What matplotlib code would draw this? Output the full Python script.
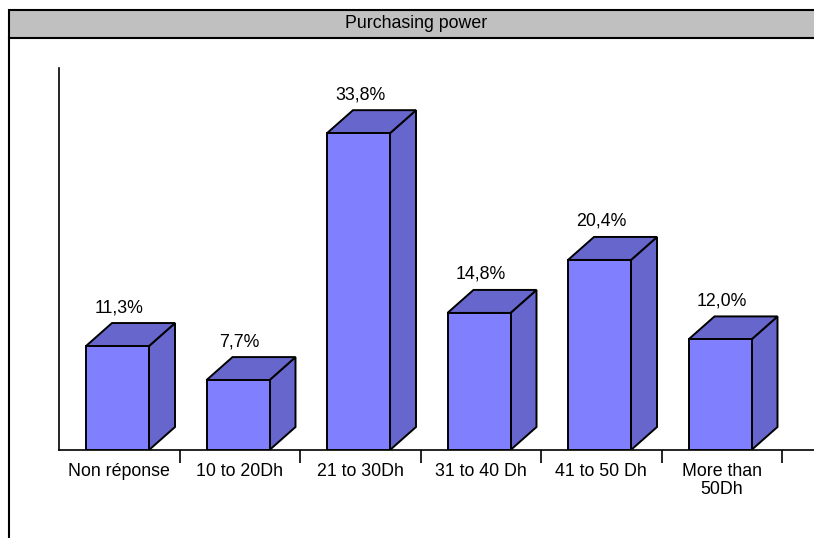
import matplotlib
matplotlib.use("Agg")
import matplotlib.pyplot as plt
from matplotlib.patches import Polygon, Rectangle
from matplotlib.lines import Line2D

# data
categories = ["Non réponse", "10 to 20Dh", "21 to 30Dh", "31 to 40 Dh",
              "41 to 50 Dh", "More than\n50Dh"]
values = [11.3, 7.7, 33.8, 14.8, 20.4, 12.0]
labels = ["11,3%", "7,7%", "33,8%", "14,8%", "20,4%", "12,0%"]
title = "Purchasing power"

plt.rcParams['font.family'] = ['Liberation Sans', 'DejaVu Sans']

W, H = 814, 538
fig = plt.figure(figsize=(W / 100, H / 100), dpi=100)

# axes placed in pixels: y axis at x=59, floor at y=450, top at y=68
ax = fig.add_axes([59 / W, (H - 450) / H, (W - 59) / W, (450 - 68) / H])
px_per_cat = 120.5
px_per_pct = 9.46
y0 = 0.31
ax.set_xlim(0, (W - 59) / px_per_cat)
ax.set_ylim(y0, y0 + (450 - 68) / px_per_pct)

front_c = "#8080FF"
side_c = "#6666CC"
dx = 26 / px_per_cat
dy = 23 / px_per_pct
x_off = 27 / px_per_cat
bw = 63 / px_per_cat

for i, v in enumerate(values):
    x0 = i + x_off
    x1 = x0 + bw
    side = Polygon([(x1, y0), (x1 + dx, y0 + dy), (x1 + dx, v + dy), (x1, v)],
                   closed=True, fc=side_c, ec="black", lw=1.4, zorder=2)
    top = Polygon([(x0, v), (x0 + dx, v + dy), (x1 + dx, v + dy), (x1, v)],
                  closed=True, fc=side_c, ec="black", lw=1.4, zorder=2)
    ax.add_patch(side)
    ax.add_patch(top)
    ax.bar(x0, v - y0, bottom=y0, width=bw, align='edge', color=front_c,
           edgecolor="black", linewidth=1.4, zorder=3)
    ax.annotate(labels[i], xy=(i + 0.5, v), xytext=(0, 34),
                textcoords='offset pixels', ha='center', va='baseline',
                fontsize=12.8)

ax.spines['top'].set_visible(False)
ax.spines['right'].set_visible(False)
ax.spines['left'].set_linewidth(1.2)
ax.spines['bottom'].set_linewidth(1.2)
ax.set_yticks([])
ax.set_xticks(range(1, len(categories) + 1))
ax.set_xticklabels([])
ax.tick_params(axis='x', which='major', length=9, width=1.2, direction='out')
ax.set_xticks([i + 0.5 for i in range(len(categories))], minor=True)
ax.set_xticklabels(categories, minor=True, fontsize=12.8)
ax.tick_params(axis='x', which='minor', length=0, pad=9)
for t in ax.get_xticklabels(minor=True):
    t.set_linespacing(1.12)

# title bar and frame
fig.patches.append(Rectangle((9 / W, (H - 38) / H), 1.0, 28 / H,
                             transform=fig.transFigure, fc="#C0C0C0",
                             ec="black", lw=1.5))
fig.lines.append(Line2D([9 / W, 9 / W], [0, (H - 38) / H],
                        transform=fig.transFigure, color="black", lw=1.5))
fig.text(416 / W, (H - 24) / H, title, ha='center', va='center', fontsize=12.8)

fig.savefig("out.png", dpi=100)
